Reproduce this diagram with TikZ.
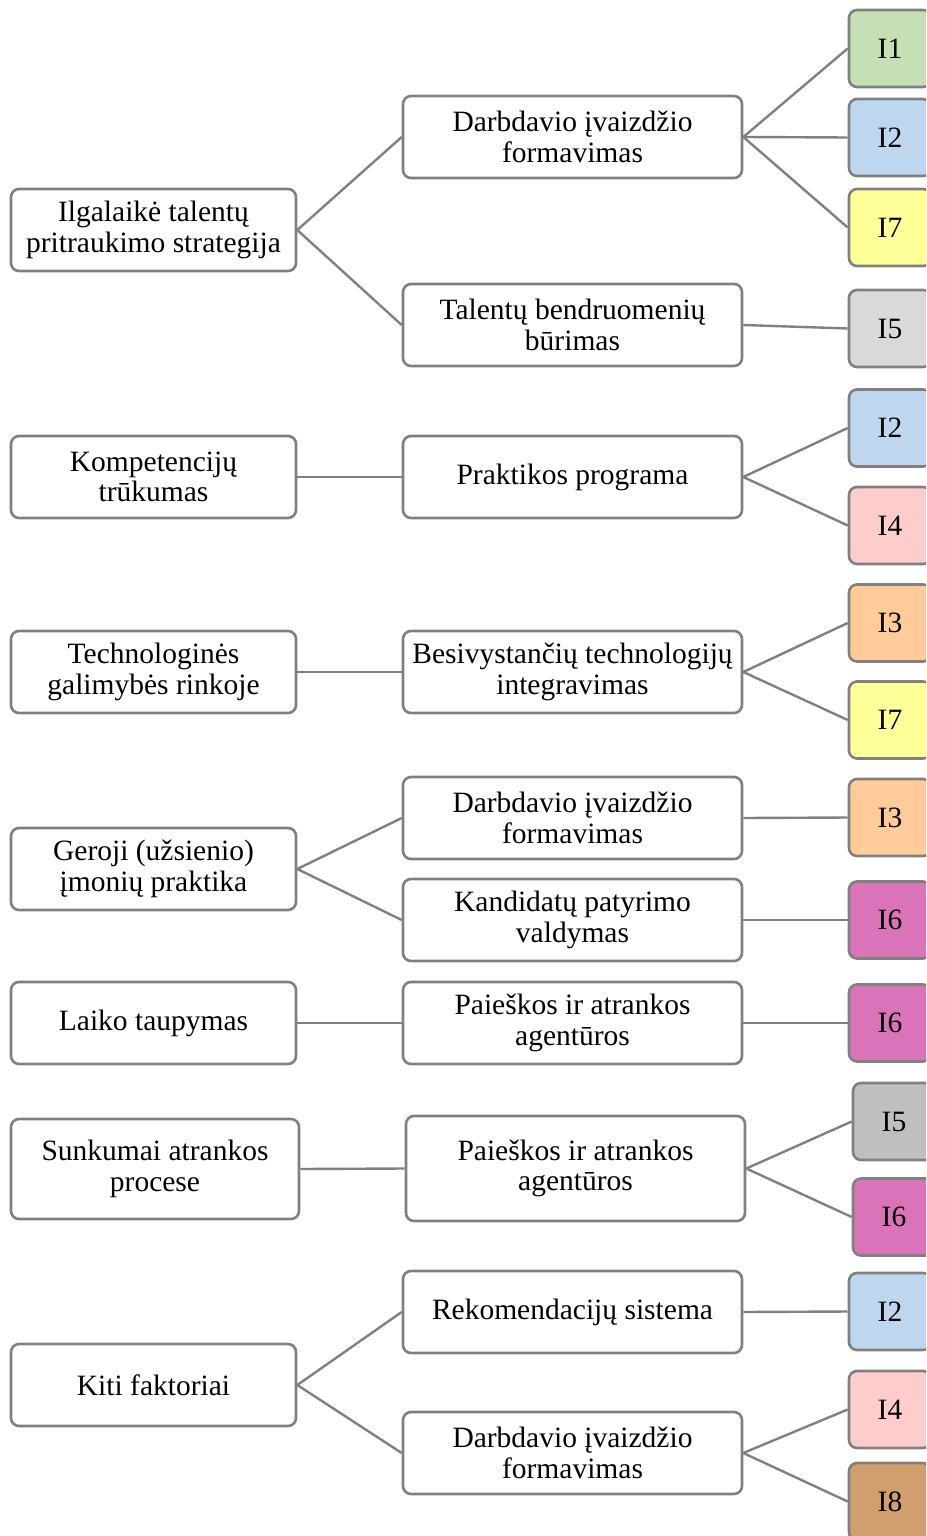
\documentclass[tikz,border=0pt]{standalone}
\usepackage{fontspec}
\setmainfont{Liberation Serif}
\usetikzlibrary{backgrounds}
\definecolor{edge}{HTML}{808080}
\definecolor{cgreen}{HTML}{C5E0B4}
\definecolor{cblue}{HTML}{BDD7EE}
\definecolor{cyellow}{HTML}{FFFF99}
\definecolor{cgrey}{HTML}{D9D9D9}
\definecolor{cgreyd}{HTML}{BFBFBF}
\definecolor{cpink}{HTML}{FFCCCC}
\definecolor{corange}{HTML}{FFCC99}
\definecolor{cmagenta}{HTML}{DB73B8}
\definecolor{cbrown}{HTML}{D19F6E}
\begin{document}
\begin{tikzpicture}[x=1pt,y=-1pt,
  box/.style={draw=edge, line width=2.6pt, rounded corners=8pt, fill=white,
    align=center, inner sep=0pt,
    font=\fontsize{29.5}{30.5}\selectfont},
  lbox/.style={box, minimum width=285pt, minimum height=82pt},
  mbox/.style={box, minimum width=339pt, minimum height=82pt},
  ibox/.style={box, minimum width=82pt, minimum height=77pt},
  link/.style={draw=edge, line width=2.4pt}]
\useasboundingbox (0,0) rectangle (926,1536);
\clip (0,0) rectangle (926,1536);

% left column
\node[lbox] (l1) at (153.5,230) {Ilgalaikė talentų\\pritraukimo strategija};
\node[lbox] (l2) at (153.5,477) {Kompetencijų\\trūkumas};
\node[lbox] (l3) at (153.5,672) {Technologinės\\galimybės rinkoje};
\node[lbox] (l4) at (153.5,869) {Geroji (užsienio)\\įmonių praktika};
\node[lbox] (l5) at (153.5,1023) {Laiko taupymas};
\node[lbox, minimum width=288pt, minimum height=100pt] (l6) at (155,1169) {Sunkumai atrankos\\procese};
\node[lbox] (l7) at (153.5,1385) {Kiti faktoriai};

% middle column
\node[mbox] (m1) at (572.5,137) {Darbdavio įvaizdžio\\formavimas};
\node[mbox] (m2) at (572.5,325) {Talentų bendruomenių\\būrimas};
\node[mbox] (m3) at (572.5,477) {Praktikos programa};
\node[mbox] (m4) at (572.5,672) {Besivystančių technologijų\\integravimas};
\node[mbox] (m5) at (572.5,818) {Darbdavio įvaizdžio\\formavimas};
\node[mbox] (m6) at (572.5,920) {Kandidatų patyrimo\\valdymas};
\node[mbox] (m7) at (572.5,1023) {Paieškos ir atrankos\\agentūros};
\node[mbox, minimum height=105pt] (m8) at (575.5,1168.5) {Paieškos ir atrankos\\agentūros};
\node[mbox] (m9) at (572.5,1312) {Rekomendacijų sistema};
\node[mbox] (m10) at (572.5,1453) {Darbdavio įvaizdžio\\formavimas};

% right column
\node[ibox, fill=cgreen] (r1) at (890,48.5) {I1};
\node[ibox, fill=cblue] (r2) at (890,137.5) {I2};
\node[ibox, fill=cyellow] (r3) at (890,227.5) {I7};
\node[ibox, fill=cgrey] (r4) at (890,328.5) {I5};
\node[ibox, fill=cblue] (r5) at (890,428) {I2};
\node[ibox, fill=cpink] (r6) at (890,525.5) {I4};
\node[ibox, fill=corange] (r7) at (890,623) {I3};
\node[ibox, fill=cyellow] (r8) at (890,720) {I7};
\node[ibox, fill=corange] (r9) at (890,817.5) {I3};
\node[ibox, fill=cmagenta] (r10) at (890,920) {I6};
\node[ibox, fill=cmagenta] (r11) at (890,1023) {I6};
\node[ibox, fill=cgreyd] (r12) at (894,1121.5) {I5};
\node[ibox, fill=cmagenta] (r13) at (894,1217) {I6};
\node[ibox, fill=cblue] (r14) at (890,1311.5) {I2};
\node[ibox, fill=cpink] (r15) at (890,1409.5) {I4};
\node[ibox, fill=cbrown] (r16) at (890,1501.5) {I8};

% connectors, drawn behind the boxes
\begin{scope}[on background layer]
\path[link] (l1.east) -- (m1.west);
\path[link] (l1.east) -- (m2.west);
\path[link] (m1.east) -- (r1.west);
\path[link] (m1.east) -- (r2.west);
\path[link] (m1.east) -- (r3.west);
\path[link] (m2.east) -- (r4.west);
\path[link] (l2.east) -- (m3.west);
\path[link] (m3.east) -- (r5.west);
\path[link] (m3.east) -- (r6.west);
\path[link] (l3.east) -- (m4.west);
\path[link] (m4.east) -- (r7.west);
\path[link] (m4.east) -- (r8.west);
\path[link] (l4.east) -- (m5.west);
\path[link] (l4.east) -- (m6.west);
\path[link] (m5.east) -- (r9.west);
\path[link] (m6.east) -- (r10.west);
\path[link] (l5.east) -- (m7.west);
\path[link] (m7.east) -- (r11.west);
\path[link] (l6.east) -- (m8.west);
\path[link] (m8.east) -- (r12.west);
\path[link] (m8.east) -- (r13.west);
\path[link] (l7.east) -- (m9.west);
\path[link] (l7.east) -- (m10.west);
\path[link] (m9.east) -- (r14.west);
\path[link] (m10.east) -- (r15.west);
\path[link] (m10.east) -- (r16.west);
\end{scope}
\end{tikzpicture}
\end{document}
